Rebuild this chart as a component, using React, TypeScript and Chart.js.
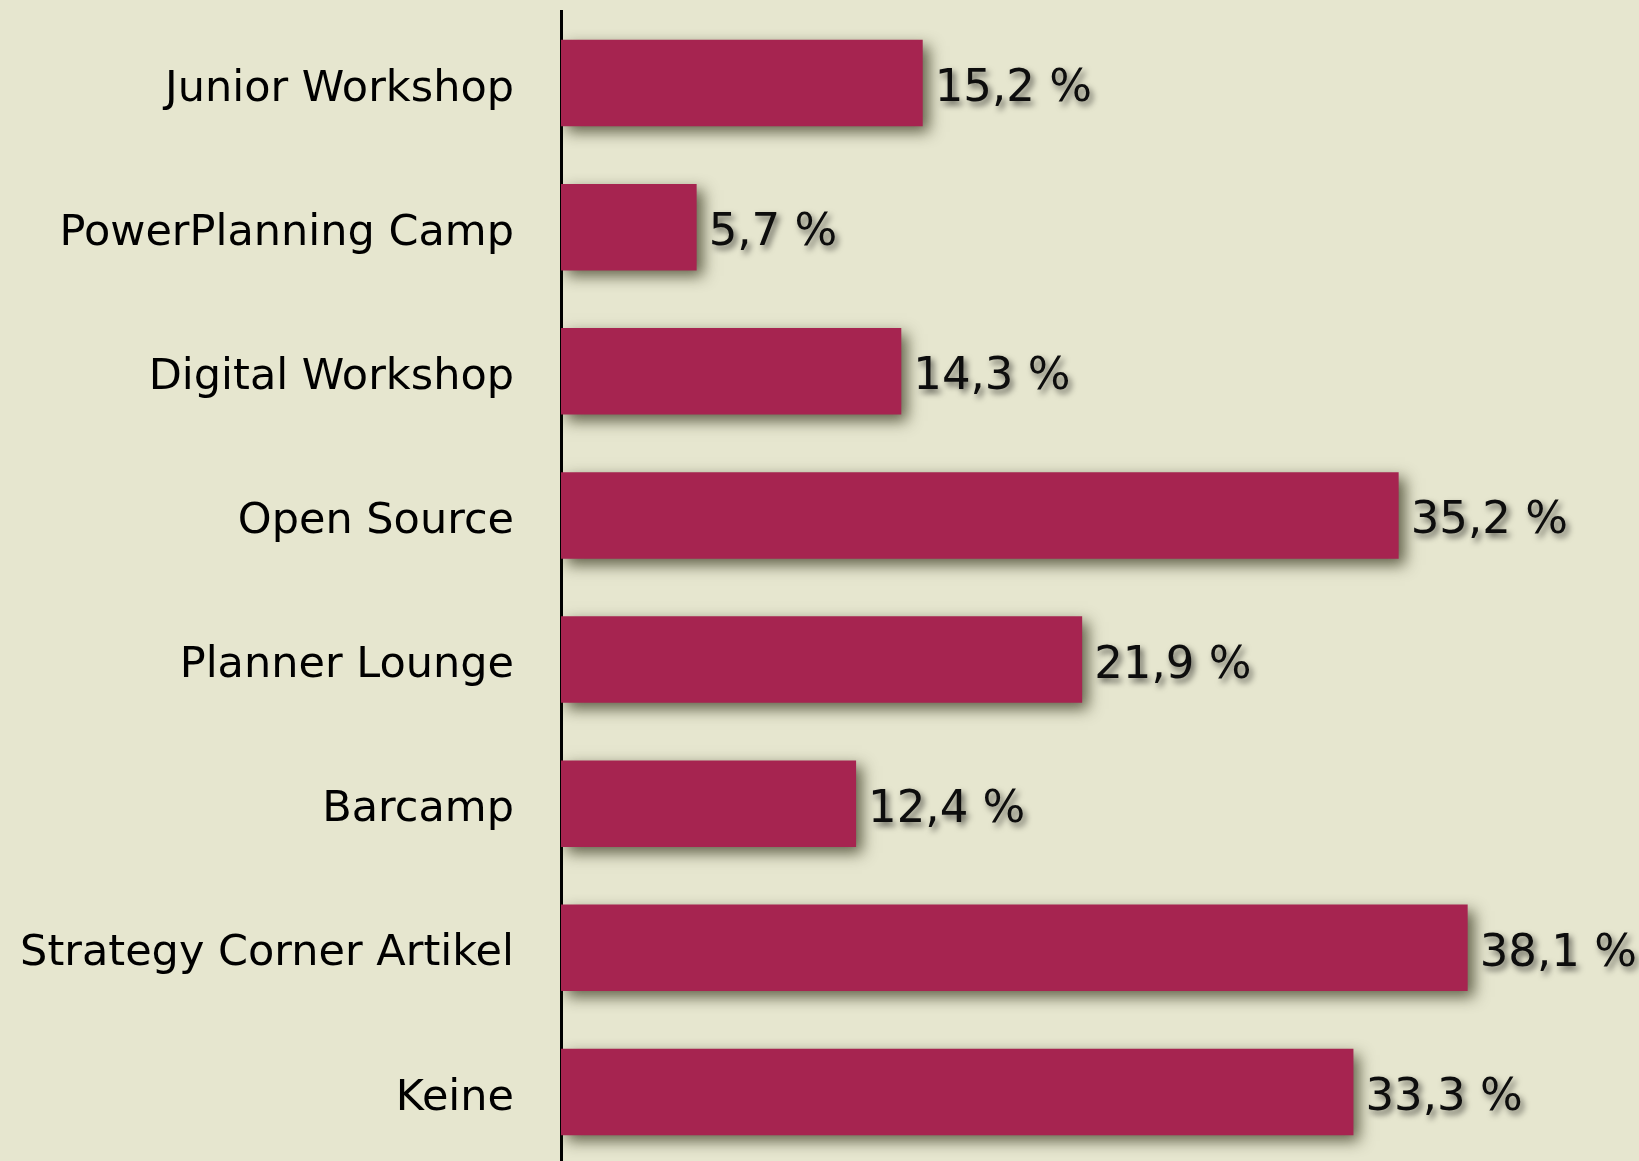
import React, { useEffect, useRef } from "react";
import { Chart, registerables } from "chart.js";

Chart.register(...registerables);

const categories = [
  "Junior Workshop",
  "PowerPlanning Camp",
  "Digital Workshop",
  "Open Source",
  "Planner Lounge",
  "Barcamp",
  "Strategy Corner Artikel",
  "Keine",
];

const values = [15.2, 5.7, 14.3, 35.2, 21.9, 12.4, 38.1, 33.3];

const BG = "#E6E6CF";
const BAR = "#A62450";
const FONT = "'DejaVu Sans', Verdana, sans-serif";

const formatValue = (v: number) => v.toFixed(1).replace(".", ",") + " %";

const barShadowPlugin = {
  id: "barShadow",
  beforeDatasetsDraw(chart: any) {
    const ctx = chart.ctx;
    ctx.save();
    ctx.shadowColor = "rgba(40, 40, 15, 0.7)";
    ctx.shadowBlur = 14;
    ctx.shadowOffsetX = 6;
    ctx.shadowOffsetY = 6;
  },
  afterDatasetsDraw(chart: any) {
    chart.ctx.restore();
  },
};

const valueLabelPlugin = {
  id: "valueLabels",
  afterDraw(chart: any) {
    const ctx = chart.ctx;
    const meta = chart.getDatasetMeta(0);
    ctx.save();
    ctx.font = `45px ${FONT}`;
    ctx.fillStyle = "#0d0d0d";
    ctx.textAlign = "left";
    ctx.textBaseline = "alphabetic";
    ctx.shadowColor = "rgba(0, 0, 0, 0.6)";
    ctx.shadowBlur = 6;
    ctx.shadowOffsetX = 3;
    ctx.shadowOffsetY = 4;
    meta.data.forEach((bar: any, i: number) => {
      ctx.fillText(formatValue(values[i]), bar.x + 12, bar.y + 18);
    });
    ctx.restore();
  },
};

export default function App() {
  const canvasRef = useRef<HTMLCanvasElement | null>(null);

  useEffect(() => {
    document.body.style.margin = "0";
    document.body.style.overflow = "hidden";
    document.body.style.background = BG;
    const canvas = canvasRef.current;
    if (!canvas) return;
    const chart = new Chart(canvas, {
      type: "bar",
      data: {
        labels: categories,
        datasets: [
          {
            data: values,
            backgroundColor: BAR,
            borderWidth: 0,
            barPercentage: 0.6,
            categoryPercentage: 1.0,
          },
        ],
      },
      options: {
        indexAxis: "y",
        animation: false,
        responsive: false,
        devicePixelRatio: 1,
        layout: { padding: { top: 11, right: 0, bottom: 0, left: 0 } },
        plugins: {
          legend: { display: false },
          tooltip: { enabled: false },
        },
        scales: {
          x: {
            display: false,
            min: 0,
            max: 45.3,
          },
          y: {
            z: 1,
            afterFit: (s: any) => {
              s.width = 561;
              s.paddingTop = 0;
              s.paddingBottom = 0;
            },
            grid: { display: false, drawTicks: false },
            border: { display: true, color: "#000000", width: 3 },
            ticks: {
              color: "#000000",
              padding: 47,
              labelOffset: 6.5,
              font: { family: FONT, size: 43 },
            },
          },
        },
      },
      plugins: [barShadowPlugin, valueLabelPlugin],
    });
    return () => chart.destroy();
  }, []);

  return (
    <div style={{ width: 1639, height: 1161, overflow: "hidden", background: BG }}>
      <canvas
        ref={canvasRef}
        width={1639}
        height={1164}
        style={{ width: 1639, height: 1164, display: "block" }}
      />
    </div>
  );
}
